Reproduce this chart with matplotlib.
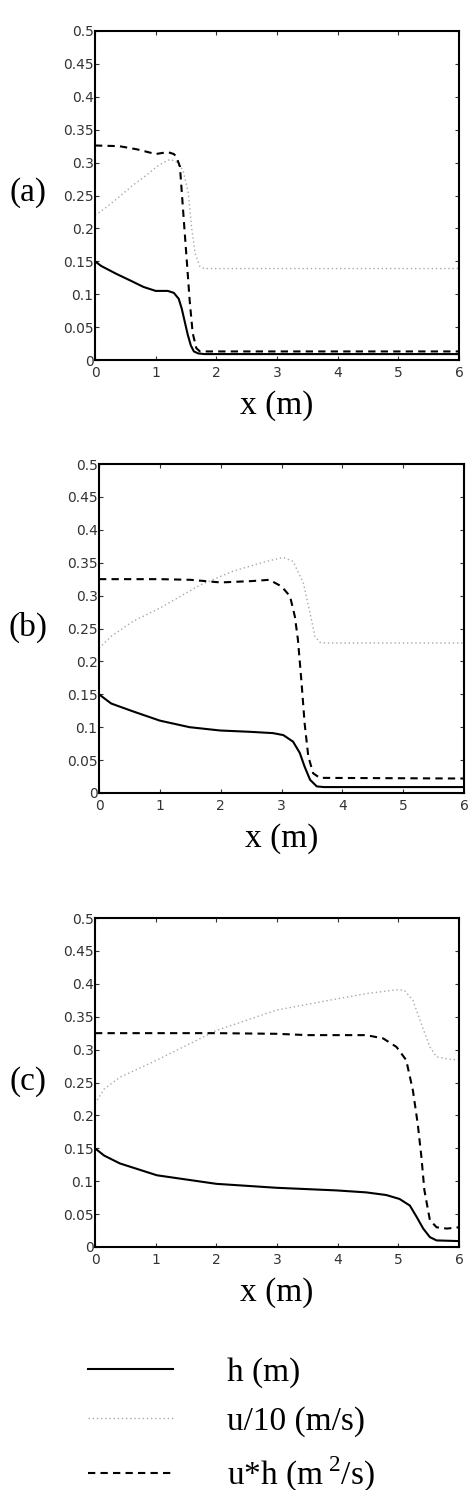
import matplotlib
matplotlib.use("Agg")
import matplotlib.pyplot as plt
from matplotlib.lines import Line2D

# Panel (a)
xa_h = [0, 0.1, 0.35, 0.6, 0.8, 1.0, 1.2, 1.3, 1.38, 1.43, 1.48, 1.53, 1.58, 1.63, 1.7, 1.8, 6]
ya_h = [0.150, 0.143, 0.131, 0.120, 0.111, 0.105, 0.105, 0.102, 0.093, 0.078, 0.058, 0.038, 0.022, 0.013, 0.010, 0.009, 0.009]
xa_u = [0, 0.2, 0.4, 0.63, 0.85, 1.02, 1.15, 1.24, 1.34, 1.45, 1.54, 1.59, 1.65, 1.73, 1.8, 6]
ya_u = [0.220, 0.233, 0.248, 0.266, 0.281, 0.294, 0.301, 0.305, 0.301, 0.289, 0.253, 0.203, 0.162, 0.142, 0.139, 0.139]
xa_q = [0, 0.4, 0.7, 1.0, 1.2, 1.3, 1.34, 1.40, 1.44, 1.48, 1.52, 1.56, 1.61, 1.67, 1.73, 6]
ya_q = [0.326, 0.325, 0.320, 0.313, 0.316, 0.313, 0.309, 0.294, 0.243, 0.192, 0.142, 0.091, 0.041, 0.018, 0.013, 0.013]

# Panel (b)
xb_h = [0, 0.2, 0.56, 1.0, 1.49, 1.99, 2.48, 2.86, 3.03, 3.19, 3.30, 3.38, 3.47, 3.58, 3.7, 6]
yb_h = [0.150, 0.136, 0.124, 0.110, 0.100, 0.095, 0.093, 0.091, 0.088, 0.078, 0.061, 0.040, 0.020, 0.010, 0.009, 0.009]
xb_u = [0, 0.2, 0.56, 1.0, 1.66, 2.2, 2.75, 3.03, 3.19, 3.36, 3.47, 3.55, 3.63, 3.7, 6]
yb_u = [0.220, 0.238, 0.261, 0.281, 0.316, 0.337, 0.352, 0.358, 0.352, 0.319, 0.273, 0.238, 0.229, 0.228, 0.228]
xb_q = [0, 1.0, 1.5, 2.0, 2.5, 2.8, 3.0, 3.14, 3.22, 3.27, 3.33, 3.38, 3.44, 3.52, 3.63, 6]
yb_q = [0.325, 0.325, 0.324, 0.320, 0.322, 0.324, 0.314, 0.299, 0.268, 0.233, 0.167, 0.106, 0.056, 0.030, 0.023, 0.022]

# Panel (c)
xc_h = [0, 0.15, 0.41, 1.02, 2.0, 2.99, 3.98, 4.47, 4.80, 5.02, 5.19, 5.30, 5.41, 5.52, 5.63, 6]
yc_h = [0.150, 0.139, 0.127, 0.109, 0.096, 0.090, 0.086, 0.083, 0.079, 0.073, 0.063, 0.046, 0.028, 0.015, 0.010, 0.009]
xc_u = [0, 0.15, 0.41, 1.02, 2.0, 2.99, 3.98, 4.47, 4.97, 5.10, 5.24, 5.38, 5.52, 5.63, 5.80, 6]
yc_u = [0.218, 0.240, 0.258, 0.284, 0.329, 0.360, 0.377, 0.385, 0.391, 0.390, 0.375, 0.339, 0.304, 0.289, 0.286, 0.284]
xc_q = [0, 1.0, 2.0, 3.0, 3.5, 4.47, 4.75, 4.97, 5.13, 5.24, 5.32, 5.38, 5.43, 5.52, 5.63, 5.80, 6]
yc_q = [0.325, 0.325, 0.325, 0.324, 0.322, 0.322, 0.317, 0.304, 0.284, 0.238, 0.187, 0.137, 0.086, 0.041, 0.030, 0.028, 0.030]

PANELS = [
    ('(a)', xa_h, ya_h, xa_u, ya_u, xa_q, ya_q),
    ('(b)', xb_h, yb_h, xb_u, yb_u, xb_q, yb_q),
    ('(c)', xc_h, yc_h, xc_u, yc_u, xc_q, yc_q),
]
XTICKS = [0, 1, 2, 3, 4, 5, 6]
YTICKS = [0, 0.05, 0.1, 0.15, 0.2, 0.25, 0.3, 0.35, 0.4, 0.45, 0.5]
YTICK_LABELS = ['0', '0.05', '0.1', '0.15', '0.2', '0.25', '0.3', '0.35', '0.4', '0.45', '0.5']
LEGEND_LABELS = ['h (m)', 'u/10 (m/s)', 'u*h (m$\\,^{2}$/s)']

W, H = 469, 1490
SERIF = 'Liberation Serif'
plt.rcParams['mathtext.fontset'] = 'custom'
plt.rcParams['mathtext.rm'] = SERIF

fig = plt.figure(figsize=(W / 100, H / 100), dpi=100)

# axes boxes in pixels: left, top, right, bottom
boxes = [(95, 31, 459, 360), (99, 464, 464, 793), (95, 918, 459, 1247)]
label_y = [193, 627, 1082]

h_style = dict(color='black', lw=1.5, ls='-')
u_style = dict(color='#a8a8a8', lw=1.0, ls=(0, (1, 2)))
q_style = dict(color='black', lw=1.5, ls=(0, (3.5, 2.5)))

for (name, xh, yh, xu, yu, xq, yq), (l, t, r, b), ly in zip(PANELS, boxes, label_y):
    ax = fig.add_axes([l / W, 1 - b / H, (r - l) / W, (b - t) / H])
    ax.plot(xu, yu, **u_style)
    ax.plot(xq, yq, **q_style)
    ax.plot(xh, yh, **h_style)
    ax.set_xlim(0, 6)
    ax.set_ylim(0, 0.5)
    ax.set_xticks(XTICKS)
    ax.set_yticks(YTICKS)
    ax.set_yticklabels(YTICK_LABELS)
    ax.tick_params(direction='in', length=3, width=0.8, top=True, right=True,
                   labelsize=10, labelcolor='#333333', color='#333333')
    ax.tick_params(axis='y', pad=1)
    ax.tick_params(axis='x', pad=4)
    for s in ax.spines.values():
        s.set_linewidth(1.5)
    ax.set_xlabel('x (m)', family=SERIF, fontsize=24, labelpad=8)
    fig.text(28 / W, 1 - ly / H, name, family=SERIF, fontsize=24,
             ha='center', va='center')

# legend
lax = fig.add_axes([0, 0, 1, 1 - 1330 / H])
lax.axis('off')
handles = [Line2D([], [], **h_style), Line2D([], [], **u_style), Line2D([], [], **q_style)]
leg = lax.legend(handles, LEGEND_LABELS, loc='upper left', bbox_to_anchor=(58 / W, 1.02),
                 frameon=False, prop={'family': SERIF, 'size': 24},
                 handlelength=2.55, handletextpad=1.62, labelspacing=0.55)

fig.savefig('out.png', dpi=100)
